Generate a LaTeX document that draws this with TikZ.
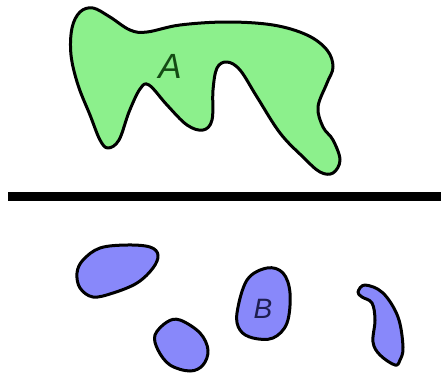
\documentclass[tikz,border=0pt]{standalone}
\usepackage{fontspec}
\newfontfamily\labfont{Liberation Sans}
\definecolor{blobgreen}{RGB}{140,240,140}
\definecolor{blobblue}{RGB}{136,136,250}
\definecolor{labgreen}{RGB}{20,75,20}
\definecolor{labblue}{RGB}{30,30,80}
\tikzset{
  blobA/.style={draw=black,line width=3pt,fill=blobgreen,line join=round},
  blobB/.style={draw=black,line width=3pt,fill=blobblue,line join=round},
  lab/.style={font=\labfont\itshape\fontsize{#1}{#1}\selectfont,inner sep=0pt},
}
\begin{document}
\begin{tikzpicture}[x=1pt,y=-1pt]
\useasboundingbox (0,0) rectangle (441,373);
% set A
\draw[blobA] plot[smooth cycle,tension=0.6] coordinates {
 (93,8) (110,17) (130,30) (147,32) (180,25) (227,22) (273,25) (307,35)
 (327,50) (333,67) (327,83) (318,107) (323,127) (333,140) (340,160)
 (333,173) (320,172) (303,157) (280,133) (257,97) (240,70) (227,62)
 (217,68) (213,90) (212,120) (203,130) (187,125) (167,105) (149,85)
 (140,89) (129,112) (119,140) (108,148) (100,140) (90,115) (78,85)
 (71,55) (72,28) (80,12)};
\node[lab=35pt,text=labgreen] (A) at (170,66) {A};
% separator
\coordinate (L) at (8,196);
\coordinate (R) at (441,196);
\draw[line width=9pt] (L) -- (R);
% set B pieces
\draw[blobB] plot[smooth cycle,tension=0.6] coordinates {
 (77,273) (83,260) (100,248) (127,245) (150,247) (158,255) (153,268)
 (137,283) (113,293) (93,297) (80,288)};
\draw[blobB] plot[smooth cycle,tension=0.6] coordinates {
 (155,335) (167,322) (180,320) (200,333) (208,350) (203,365) (190,371)
 (170,365) (158,350)};
\draw[blobB] plot[smooth cycle,tension=0.6] coordinates {
 (237,313) (247,280) (267,268) (283,273) (290,293) (287,323) (273,338)
 (253,338) (240,330)};
\draw[blobB] plot[smooth cycle,tension=0.6] coordinates {
 (358,292) (365,285) (383,293) (398,317) (403,347) (400,360) (395,365)
 (380,355) (373,342) (375,320) (372,303) (362,297)};
\node[lab=28pt,text=labblue] (B) at (263,309) {B};
\end{tikzpicture}
\end{document}
